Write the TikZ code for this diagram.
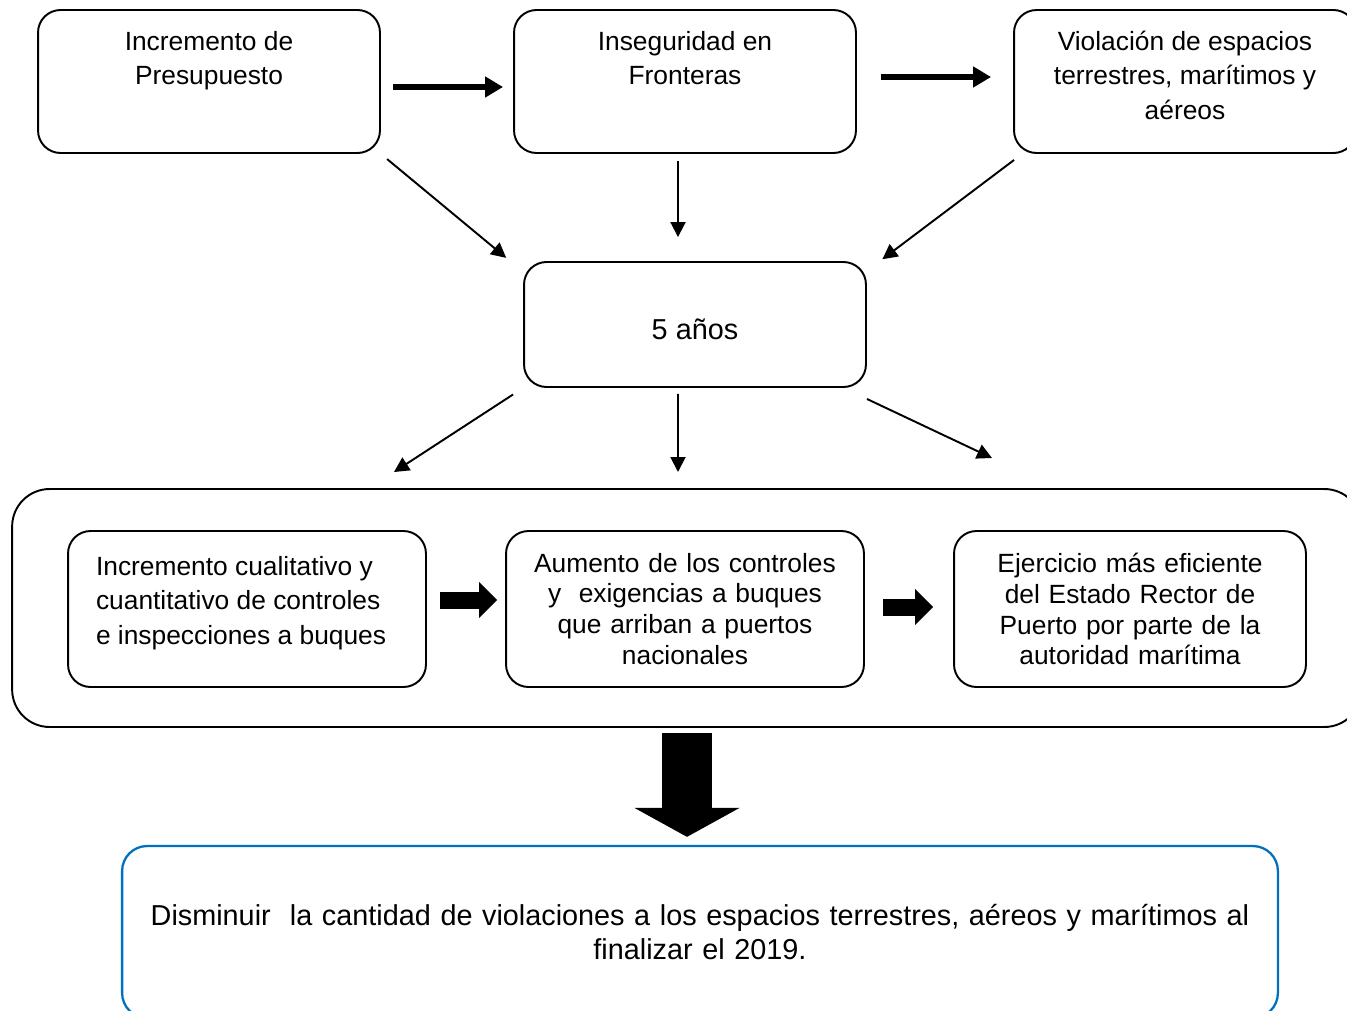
\documentclass[tikz,border=0pt]{standalone}
\usepackage{fontspec}
\setmainfont{Liberation Sans}
\usetikzlibrary{arrows.meta}

\definecolor{azulmeta}{RGB}{0,112,192}

\newcommand{\textoarriba}[1]{\parbox[c][2.86cm][t]{6.6cm}{\centering\vspace*{0.42cm}#1}}

\begin{document}
\begin{tikzpicture}[
    x=0.02cm, y=-0.02cm,
    caja/.style={draw, line width=1.1pt, rounded corners=0.45cm, inner sep=0pt,
        font=\fontsize{15}{19.6}\selectfont},
    cajasup/.style={caja, minimum width=6.84cm, minimum height=2.86cm},
    cajainf/.style={caja, minimum width=7.16cm, minimum height=3.12cm, align=center,
        font=\fontsize{15}{17.6}\selectfont},
    flechafina/.style={-{Triangle[length=0.3cm, width=0.3cm]}, line width=1.1pt},
    flechagruesa/.style={-{Triangle[length=0.36cm, width=0.4cm]}, line width=0.12cm},
    flechabloque/.style={-{Triangle[length=0.36cm, width=0.7cm]}, line width=0.34cm},
]
    \useasboundingbox (0,0) rectangle (1347,1011);

    % causas
    \node[cajasup] (presup) at (209,81.5) {\textoarriba{Incremento de\\Presupuesto}};
    \node[cajasup] (insegur) at (685,81.5) {\textoarriba{Inseguridad en\\Fronteras}};
    \node[cajasup] (violac) at (1185,81.5)
        {\textoarriba{Violación de espacios\\terrestres, marítimos y\\aéreos}};

    \draw[flechagruesa, shorten <=0.24cm, shorten >=0.2cm]
        ([yshift=-0.11cm]presup.east) --
        ([yshift=-0.11cm]insegur.west);

    \draw[flechagruesa, shorten <=0.48cm, shorten >=0.44cm]
        ([yshift=0.09cm]insegur.east) --
        ([yshift=0.09cm]violac.west);

    % plazo
    \node[caja, minimum width=6.84cm, minimum height=2.5cm,
        font=\fontsize{16.4}{19.6}\selectfont] (cinco) at (695,324.5)
        {\raisebox{-0.3cm}[0pt][0pt]{5 años}};

    \draw[flechafina, shorten <=0.16cm, shorten >=0.1cm]
        (presup.south east) --
        ([xshift=-0.26cm]cinco.north west);
    \draw[flechafina, shorten <=0.14cm, shorten >=0.48cm]
        ([xshift=-0.14cm]insegur.south) --
        ([xshift=-0.14cm]insegur.south |- cinco.north);
    \draw[flechafina, shorten <=0.2cm, shorten >=0.06cm]
        ([xshift=0.18cm]violac.south west) --
        ([xshift=0.26cm]cinco.north east);

    % hacia las acciones
    \coordinate (haciaIzq) at (394,472);
    \coordinate (haciaCen) at (678,472);
    \coordinate (haciaDer) at (992,458);

    \draw[flechafina, shorten <=0.24cm]
        (cinco.south west) --
        (haciaIzq);
    \draw[flechafina, shorten <=0.12cm]
        ([xshift=-0.34cm]cinco.south) --
        (haciaCen);
    \draw[flechafina]
        ([yshift=-0.22cm]cinco.south east) --
        (haciaDer);

    % acciones
    \node[draw, line width=1.1pt, rounded corners=0.75cm,
        minimum width=27cm, minimum height=4.76cm] (contenedor) at (687,608) {};

    \node[cajainf, font=\fontsize{15}{19.8}\selectfont] (cualit) at (247,609)
        {\parbox[c][3.12cm][c]{6.04cm}{Incremento cualitativo y\\cuantitativo de controles\\e inspecciones a buques\par\vspace*{0.24cm}}};
    \node[cajainf, text width=7.16cm] (aumento) at (685,609)
        {Aumento de los controles\\y\ \ exigencias a buques\\que arriban a puertos\\nacionales};
    \node[cajainf, minimum width=7.04cm, text width=7.04cm] (ejerc) at (1130,609)
        {Ejercicio más eficiente\\del Estado Rector de\\Puerto por parte de la\\autoridad marítima};

    \draw[flechabloque, shorten <=0.26cm, shorten >=0.16cm]
        ([yshift=0.18cm]cualit.east) --
        ([yshift=0.18cm]aumento.west);
    \draw[flechabloque, shorten <=0.36cm, shorten >=0.4cm]
        ([yshift=0.04cm]aumento.east) --
        ([yshift=0.04cm]ejerc.west);

    % meta
    \node[caja, draw=azulmeta, line width=1.3pt, rounded corners=0.5cm, minimum width=23.12cm,
        minimum height=3.44cm, align=center, text width=23cm,
        font=\fontsize{16.4}{19.8}\selectfont] (meta) at (700,932)
        {Disminuir\ \ la cantidad de violaciones a los espacios terrestres, aéreos y marítimos al\\finalizar el 2019.};

    \draw[line width=1cm, -{Triangle[length=0.58cm, width=2.08cm]},
            shorten <=0.1cm, shorten >=0.16cm]
        (contenedor.south) --
        (contenedor.south |- meta.north);

\end{tikzpicture}
\end{document}
